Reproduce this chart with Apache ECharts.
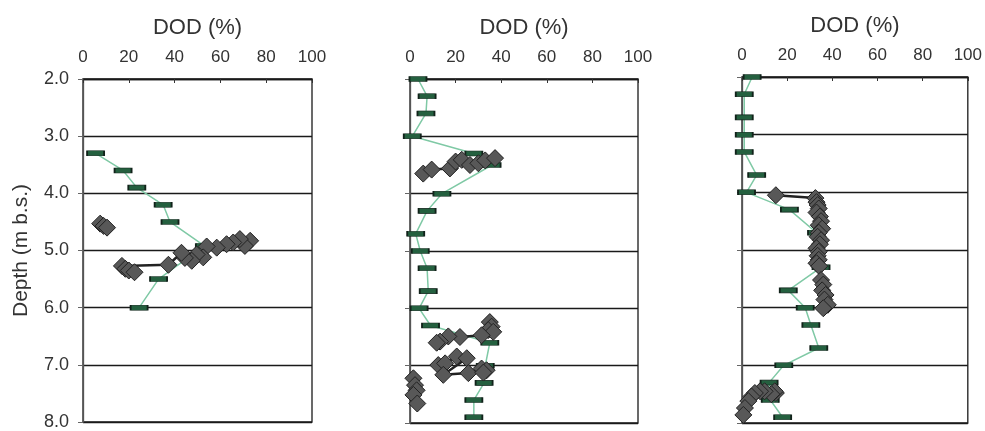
<!DOCTYPE html>
<html>
<head>
<meta charset="utf-8">
<script src="https://cdn.jsdelivr.net/npm/echarts@6/dist/echarts.min.js"></script>
<style>html,body{margin:0;padding:0;background:#fff}#c{width:985px;height:431px}</style>
</head>
<body>
<div id="c"></div>
<script>
// ---------- data ----------
const xTicks = [0, 20, 40, 60, 80, 100];
const depthTicks = [2, 3, 4, 5, 6, 7, 8];
const xTitle = 'DOD (%)';
const yTitle = 'Depth (m b.s.)';

// Panel 1 – green profile [DOD, depth]
const p1Green = [[5.5,3.3],[17.5,3.6],[23.5,3.9],[35,4.2],[38,4.5],[53,4.92],[33,5.5],[24.5,6.0]];
// Panel 1 – diamonds
const p1DiamondA = [[7.5,4.53],[9,4.57],[10.5,4.6]];
const p1DiamondB = [[73,4.83],[70.7,4.92],[68.5,4.8],[65.6,4.86],[62.7,4.89],[58.4,4.95],[54,4.93],[52.5,5.12],[49.6,5.07],[47.5,5.18],[44.5,5.13],[43,5.04],[37.3,5.25],[17,5.27],[18.5,5.32],[20,5.35],[22.5,5.38]];

// Panel 2 – green profile
const p2Green = [[3.5,2.0],[7.5,2.3],[7,2.6],[1,3.0],[28,3.3],[36,3.5],[14,4.0],[7.5,4.3],[2.5,4.7],[4.5,5.0],[7.5,5.3],[8,5.7],[4,6.0],[9,6.3],[35,6.6],[33,7.0],[32.5,7.3],[28,7.6],[28,7.9]];
// Panel 2 – diamonds
const p2DiamondA = [[5.8,3.65],[9.5,3.58],[17.5,3.56],[20,3.44],[22.7,3.41],[26.3,3.5],[30,3.47],[33,3.42],[37.3,3.38]];
const p2DiamondB = [[35,6.24],[35.8,6.32],[34.3,6.38],[36.5,6.41],[31.4,6.47],[21.9,6.5],[16.8,6.49],[13.2,6.58],[11.7,6.6]];
const p2DiamondC = [[12.4,6.99],[15.4,6.96],[20.5,6.84],[24.9,6.87],[14.6,7.16],[25.6,7.13],[31.4,7.05],[33.6,7.08],[32.2,7.12]];
const p2DiamondD = [[1.5,7.22],[2.2,7.34],[2.9,7.43],[1.5,7.51],[3.2,7.66]];

// Panel 3 – green profile
const p3Green = [[4.5,2.0],[1,2.3],[1,2.7],[1,3.0],[1,3.3],[6.5,3.7],[2,4.0],[21,4.3],[33,4.7],[35,5.3],[20.5,5.7],[28,6.0],[30.5,6.3],[34,6.7],[18.5,7.0],[12,7.3],[12.5,7.6],[18,7.9]];
// Panel 3 – diamonds
const p3DiamondA = [[15,4.05],[32.5,4.1],[33,4.17],[33.5,4.22],[34,4.28],[33,4.35],[34.5,4.42],[35,4.5],[34,4.57],[35.5,4.63],[34,4.7],[33.5,4.77],[35,4.83],[34.5,4.9],[33,4.97],[34,5.03],[33.5,5.1],[34,5.17],[33,5.23],[34.2,5.28]];
const p3DiamondB = [[35,5.52],[36,5.6],[35.5,5.7],[37,5.78],[36.5,5.86],[38,5.95],[36,6.01]];
const p3DiamondC = [[15,7.48],[14.5,7.45],[13,7.5],[10,7.45],[8,7.45],[5.7,7.48],[4.2,7.54],[2.8,7.62],[1.3,7.74],[0.6,7.86]];

// ---------- chart ----------
const FONT = 'Liberation Sans';
const panels = [
  {left: 83,  top: 79, width: 229, labels: true,  green: p1Green, diamonds: [p1DiamondA, p1DiamondB]},
  {left: 410, top: 79, width: 228, labels: false, green: p2Green, diamonds: [p2DiamondA, p2DiamondB, p2DiamondC, p2DiamondD]},
  {left: 742, top: 77, width: 228, labels: false, green: p3Green, diamonds: [p3DiamondA, p3DiamondB, p3DiamondC]}
];

const grid = [], xAxis = [], yAxis = [], series = [];
panels.forEach((p, i) => {
  grid.push({left: p.left, top: p.top, width: p.width, bottom: 8, show: true,
    borderColor: '#1a1a1a', borderWidth: 1.3, backgroundColor: 'transparent', containLabel: false});
  xAxis.push({
    gridIndex: i, type: 'value', position: 'top', min: xTicks[0], max: xTicks[xTicks.length-1], interval: 20,
    name: xTitle, nameLocation: 'middle', nameGap: 40,
    nameTextStyle: {fontFamily: FONT, fontSize: 22, color: '#333'},
    axisLine: {show: true, lineStyle: {color: '#1a1a1a', width: 1.3}},
    axisTick: {show: true, inside: true, length: 4, lineStyle: {color: '#333'}},
    axisLabel: {fontFamily: FONT, fontSize: 17, color: '#333', margin: 13},
    splitLine: {show: false}
  });
  yAxis.push({
    gridIndex: i, type: 'value', inverse: true, min: depthTicks[0], max: depthTicks[depthTicks.length-1], interval: 1,
    name: p.labels ? yTitle : '', nameLocation: 'middle', nameGap: 51, nameRotate: 90,
    nameTextStyle: {fontFamily: FONT, fontSize: 21, color: '#333'},
    axisLine: {show: true, lineStyle: {color: '#555', width: 1.3}},
    axisTick: {show: true, inside: false, length: 5, lineStyle: {color: '#666'}},
    axisLabel: {show: p.labels, fontFamily: FONT, fontSize: 18, color: '#333', margin: 14,
      formatter: v => v.toFixed(1)},
    splitLine: {show: true, lineStyle: {color: '#1a1a1a', width: 1.3}}
  });
  series.push({
    type: 'line', xAxisIndex: i, yAxisIndex: i, data: p.green, z: 2,
    lineStyle: {color: '#7fc9a5', width: 1.5},
    symbol: 'rect', symbolSize: [17, 5],
    itemStyle: {color: '#24603f', borderColor: '#11221a', borderWidth: 1},
    animation: false
  });
  p.diamonds.forEach(d => {
    series.push({
      type: 'line', xAxisIndex: i, yAxisIndex: i, data: d, z: 3,
      lineStyle: {color: '#222', width: 2.5},
      symbol: 'diamond', symbolSize: 17,
      itemStyle: {color: '#585858', borderColor: '#222', borderWidth: 1},
      animation: false
    });
  });
});

const chart = echarts.init(document.getElementById('c'), null, {renderer: 'canvas'});
chart.setOption({animation: false, backgroundColor: '#fff', grid, xAxis, yAxis, series});
</script>
</body>
</html>
